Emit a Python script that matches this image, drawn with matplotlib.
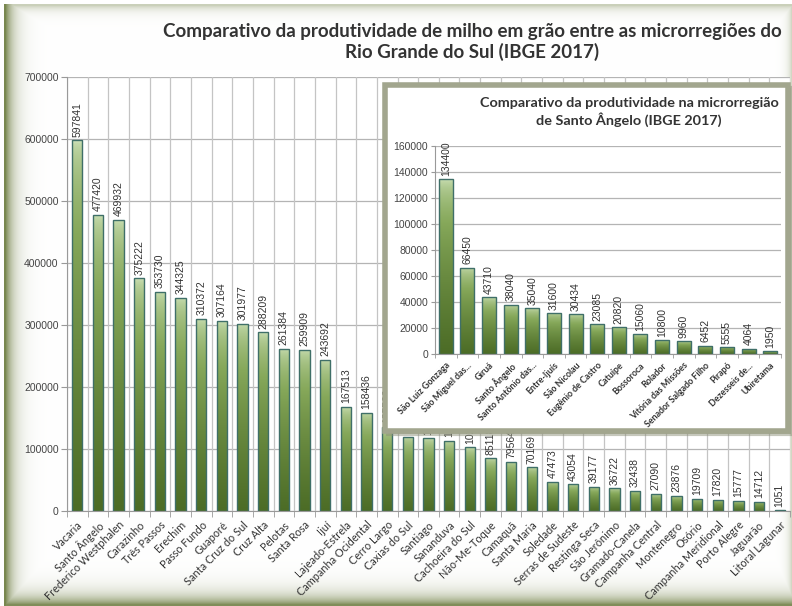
import numpy as np
import matplotlib
matplotlib.use("Agg")
import matplotlib.pyplot as plt
from matplotlib.patches import FancyBboxPatch
from matplotlib.colors import to_rgb

# ---------------- data ----------------
main_categories = ["Vacaria", "Santo Ângelo", "Frederico Westphalen", "Carazinho", "Três Passos",
                   "Erechim", "Passo Fundo", "Guaporé", "Santa Cruz do Sul", "Cruz Alta", "Pelotas",
                   "Santa Rosa", "Ijuí", "Lajeado-Estrela", "Campanha Ocidental", "Cerro Largo",
                   "Caxias do Sul", "Santiago", "Sananduva", "Cachoeira do Sul", "Não-Me-Toque",
                   "Camaquã", "Santa Maria", "Soledade", "Serras de Sudeste", "Restinga Seca",
                   "São Jerônimo", "Gramado-Canela", "Campanha Central", "Montenegro", "Osório",
                   "Campanha Meridional", "Porto Alegre", "Jaguarão", "Litoral Lagunar"]
main_values = [597841, 477420, 469932, 375222, 353730, 344325, 310372, 307164, 301977, 288209,
               261384, 259909, 243692, 167513, 158436, 135500, 120000, 117000, 113000, 102700,
               85118, 79564, 70169, 47473, 43054, 39177, 36722, 32438, 27090, 23876, 19709,
               17820, 15777, 14712, 1051]
main_yticks = [0, 100000, 200000, 300000, 400000, 500000, 600000, 700000]

inset_categories = ["São Luiz Gonzaga", "São Miguel das...", "Giruá", "Santo Ângelo",
                    "Santo Antônio das...", "Entre-Ijuís", "São Nicolau", "Eugênio de Castro",
                    "Catuípe", "Bossoroca", "Rolador", "Vitória das Missões",
                    "Senador Salgado Filho", "Pirapó", "Dezesseis de...", "Ubiretama"]
inset_values = [134400, 66450, 43710, 38040, 35040, 31600, 30434, 23085, 20820, 15060, 10800,
                9960, 6452, 5555, 4064, 1950]
inset_yticks = [0, 20000, 40000, 60000, 80000, 100000, 120000, 140000, 160000]

main_title = "Comparativo da produtividade de milho em grão entre as microrregiões do\nRio Grande do Sul (IBGE 2017)"
inset_title = "Comparativo da produtividade na microrregião\nde Santo Ângelo (IBGE 2017)"

# ---------------- style ----------------
W, H = 792, 606
fig = plt.figure(figsize=(W / 100, H / 100), dpi=100)
fig.patch.set_facecolor("white")

NUM_FONT = ["Liberation Sans", "DejaVu Sans"]
LBL_FONT = ["Lato", "DejaVu Sans"]
TITLE_FONT = ["Lato", "DejaVu Sans"]

light = np.array(to_rgb("#cfe3bb"))
mid = np.array(to_rgb("#86a85a"))
dark = np.array(to_rgb("#4c6c26"))
EDGE = "#3f6f68"


def gradient_img(n=160):
    t = np.linspace(0, 1, n)[:, None]  # 0 top -> 1 bottom
    t2 = t ** 0.5
    col = np.where(t2 < 0.5,
                   light + (mid - light) * (t2 / 0.5),
                   mid + (dark - mid) * ((t2 - 0.5) / 0.5))
    return col.reshape(n, 1, 3)


GRAD = gradient_img()

# ---------------- vignette background ----------------
bg = fig.add_axes([0, 0, 1, 1], zorder=0)
bg.set_axis_off()
yy, xx = np.mgrid[0:H, 0:W].astype(float)
olive = np.array(to_rgb("#6a7a3c"))
a_left = np.clip(np.exp(-(xx - 5) / 8.0), 0, 1) * (xx >= 4) * 0.9
a_bottom = np.clip(np.exp(-(H - 2 - yy) / 9.0), 0, 1) * 0.85
a_top = np.clip(np.exp(-(yy - 5) / 5.0), 0, 1) * (yy >= 4) * 0.35
a_right = np.clip(np.exp(-(W - 1 - xx) / 4.0), 0, 1) * 0.3
alpha = np.clip(np.maximum.reduce([a_left, a_bottom, a_top, a_right]), 0, 1)
alpha[:, :4] = 0
alpha[:4, :] = 0
img = np.ones((H, W, 3)) * (1 - alpha[..., None]) + olive * alpha[..., None]
bg.imshow(img, extent=(0, 1, 0, 1), aspect="auto", transform=bg.transAxes)
bg.set_xlim(0, 1)
bg.set_ylim(0, 1)


def draw_grad_bars(ax, xs, vals, width):
    bars = ax.bar(xs, vals, width=width, facecolor="none", edgecolor=EDGE, linewidth=1.0, zorder=3)
    for b in bars:
        x0 = b.get_x()
        h = b.get_height()
        im = ax.imshow(GRAD, extent=(x0, x0 + width, 0, h), aspect="auto",
                       interpolation="bilinear", zorder=2.5)
        im.set_clip_path(b)
    return bars


# ---------------- main chart ----------------
ax = fig.add_axes([67 / W, 1 - 511 / H, (790 - 67) / W, (511 - 77) / H], zorder=1)
ax.set_facecolor("white")
n = len(main_values)
xs = np.arange(n)
draw_grad_bars(ax, xs, main_values, 0.5)
ax.set_xlim(-0.5, n - 0.5)
ax.set_ylim(0, 700000)
ax.set_yticks(main_yticks)
ax.set_yticklabels([str(v) for v in main_yticks], fontsize=7.5, color="#444444", family=NUM_FONT)
for v in main_yticks:
    ax.axhline(v, color="#b4b4b4", lw=0.9, zorder=1)
for i in range(n + 1):
    ax.axvline(i - 0.5, color="#c4c4c4", lw=0.9, zorder=1)
ax.set_xticks(xs)
ax.set_xticklabels(main_categories, rotation=45, ha="right", rotation_mode="anchor",
                   fontsize=7.8, color="#333333", family=LBL_FONT)
ax.set_xticks(np.arange(n + 1) - 0.5, minor=True)
ax.tick_params(axis="x", which="major", length=0, pad=6)
ax.tick_params(axis="x", which="minor", length=4, color="#999999")
ax.tick_params(axis="y", length=4, color="#999999", pad=2)
for s in ["top", "right"]:
    ax.spines[s].set_visible(False)
ax.spines["left"].set_color("#999999")
ax.spines["bottom"].set_color("#999999")
for x, v in zip(xs, main_values):
    ax.text(x, v + 6000, str(v), rotation=90, ha="center", va="bottom", fontsize=7.5,
            color="#333333", family=NUM_FONT, zorder=4, clip_on=False)

fig.text(472 / W, 1 - 42 / H, main_title, ha="center", va="center", fontsize=13.5,
         fontweight="bold", color="#333333", family=TITLE_FONT, linespacing=1.15, zorder=5)

# ---------------- inset frame ----------------
bx0, by0, bx1, by1 = 385, 85, 788, 431
shadow = FancyBboxPatch(((bx0 + 3) / W, 1 - (by1 + 3) / H), (bx1 - bx0) / W, (by1 - by0) / H,
                        boxstyle="square,pad=0", transform=fig.transFigure,
                        facecolor="#8c9078", edgecolor="#8c9078", lw=3, alpha=0.5, zorder=2)
fig.add_artist(shadow)
frame = FancyBboxPatch((bx0 / W, 1 - by1 / H), (bx1 - bx0) / W, (by1 - by0) / H,
                       boxstyle="square,pad=0", transform=fig.transFigure,
                       facecolor="white", edgecolor="#a2a68e", lw=4, zorder=2.1)
fig.add_artist(frame)

# ---------------- inset chart ----------------
ax2 = fig.add_axes([435 / W, 1 - 354 / H, (781 - 435) / W, (354 - 146) / H], zorder=3)
ax2.set_facecolor("white")
m = len(inset_values)
xs2 = np.arange(m)
draw_grad_bars(ax2, xs2, inset_values, 0.65)
ax2.set_xlim(-0.5, m - 0.5)
ax2.set_ylim(0, 160000)
ax2.set_yticks(inset_yticks)
ax2.set_yticklabels([str(v) for v in inset_yticks], fontsize=7.5, color="#444444", family=NUM_FONT)
for v in inset_yticks:
    ax2.axhline(v, color="#b4b4b4", lw=0.9, zorder=1)
ax2.set_xticks(xs2)
ax2.set_xticklabels(inset_categories, rotation=45, ha="right", rotation_mode="anchor",
                    fontsize=6.4, fontweight="bold", color="#333333", family=LBL_FONT)
ax2.set_xticks(np.arange(m + 1) - 0.5, minor=True)
ax2.tick_params(axis="x", which="major", length=0, pad=5)
ax2.tick_params(axis="x", which="minor", length=3, color="#999999")
ax2.tick_params(axis="y", length=3, color="#999999", pad=2)
for s in ["top", "right"]:
    ax2.spines[s].set_visible(False)
ax2.spines["left"].set_color("#999999")
ax2.spines["bottom"].set_color("#999999")
for x, v in zip(xs2, inset_values):
    ax2.text(x, v + 2500, str(v), rotation=90, ha="center", va="bottom", fontsize=7.5,
             color="#333333", family=NUM_FONT, zorder=4, clip_on=False)

fig.text(629 / W, 1 - 112 / H, inset_title, ha="center", va="center", fontsize=10.4,
         fontweight="bold", color="#333333", family=TITLE_FONT, linespacing=1.25, zorder=5)

fig.savefig("out.png", dpi=100)
